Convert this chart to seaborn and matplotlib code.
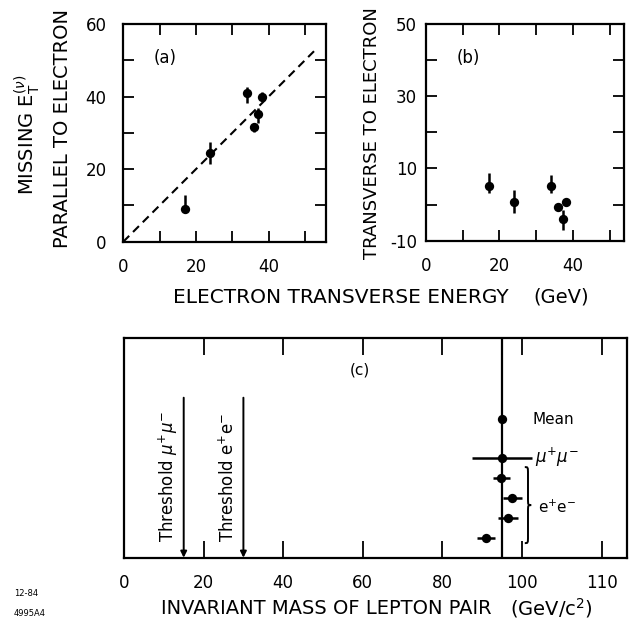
import numpy as np
import pandas as pd
import matplotlib
matplotlib.use("Agg")
import matplotlib.pyplot as plt
from matplotlib.path import Path
from matplotlib.patches import PathPatch
import seaborn as sns

# ---------------- data ----------------
# panels (a) and (b): electron transverse energy of the six events (GeV)
et = [17.1, 24.0, 34.1, 36.0, 37.2, 38.2]
# (a) missing E_T parallel to electron
par = [8.9, 24.4, 41.1, 31.6, 35.2, 40.0]
par_lo = [1.0, 3.0, 2.9, 1.5, 2.5, 1.2]
par_hi = [4.0, 3.0, 1.5, 1.0, 1.6, 1.2]
# (b) missing E_T transverse to electron
trans = [5.2, 0.6, 5.2, -0.6, -4.1, 0.6]
trans_lo = [2.1, 3.0, 2.0, 1.0, 2.9, 1.0]
trans_hi = [3.6, 3.3, 3.0, 1.0, 2.6, 1.0]
# dashed reference line in (a)
diag_x = [0, 52.5]
diag_y = [0, 52.5]

# panel (c): invariant mass of lepton pair (GeV/c^2)
mass_label = ["Mean", "mu+mu-", "e+e-", "e+e-", "e+e-", "e+e-"]
mass_row = [6.93, 5.0, 4.0, 3.0, 2.0, 1.0]
mass = [95.0, 95.0, 94.8, 97.6, 96.4, 90.9]
mass_err = [0.0, 7.5, 2.1, 2.4, 2.5, 2.2]
mean_mass = 95.0
thresholds = [15, 30]
threshold_labels = [r"Threshold $\mu^{+}\mu^{-}$", r"Threshold e$^{+}$e$^{-}$"]
c_ticks = [0, 20, 40, 60, 80, 100, 120]
c_ticklabels = ["0", "20", "40", "60", "80", "100", "110"]

# ---------------- style ----------------
sns.set_theme(style="ticks")
plt.rcParams["font.family"] = ["DejaVu Sans"]
plt.rcParams["mathtext.fontset"] = "dejavusans"
plt.rcParams["axes.linewidth"] = 1.6
plt.rcParams["text.color"] = "black"
plt.rcParams["axes.labelcolor"] = "black"
plt.rcParams["xtick.color"] = "black"
plt.rcParams["ytick.color"] = "black"
plt.rcParams["axes.unicode_minus"] = False

W, H = 629, 625
fig = plt.figure(figsize=(W / 100, H / 100), dpi=100)

def px_axes(l, r, t, b):
    return fig.add_axes([l / W, 1 - b / H, (r - l) / W, (b - t) / H])

axa = px_axes(123.3, 326.0, 24.0, 241.7)
axb = px_axes(425.9, 624.3, 24.0, 240.7)
axc = px_axes(124.0, 626.7, 337.7, 557.7)

dfa = pd.DataFrame({"et": et, "par": par, "trans": trans})

def style_ax(ax, ypad):
    ax.tick_params(which="both", direction="in", top=True, right=True,
                   length=8, width=1.3, colors="black", labelsize=12,
                   labelcolor="black")
    ax.tick_params(axis="y", which="both", pad=ypad)
    ax.tick_params(axis="x", which="both", pad=12)
    for s in ax.spines.values():
        s.set_color("black")
        s.set_linewidth(1.6)
    ax.set_xlabel("")
    ax.set_ylabel("")

# ---- panel (a)
axa.errorbar(et, par, yerr=[par_lo, par_hi], fmt="none", ecolor="black",
             elinewidth=1.8, capsize=0)
sns.scatterplot(data=dfa, x="et", y="par", ax=axa, color="black", s=45,
                edgecolor="black", linewidth=0, zorder=3)
sns.lineplot(x=diag_x, y=diag_y, ax=axa, color="black", lw=1.5,
             linestyle=(0, (4, 2.6)))
axa.set_xlim(0, 55.8)
axa.set_ylim(0, 60)
axa.set_xticks([0, 20, 40])
axa.set_xticks([10, 30, 50], minor=True)
axa.set_yticks([0, 20, 40, 60])
axa.set_yticks([10, 30, 50], minor=True)
style_ax(axa, 12)
axa.text(11.5, 50.7, "(a)", fontsize=12, ha="center", va="center")

# ---- panel (b)
axb.errorbar(et, trans, yerr=[trans_lo, trans_hi], fmt="none", ecolor="black",
             elinewidth=1.8, capsize=0)
sns.scatterplot(data=dfa, x="et", y="trans", ax=axb, color="black", s=45,
                edgecolor="black", linewidth=0, zorder=3)
axb.set_xlim(0, 54)
axb.set_ylim(-10, 50)
axb.set_xticks([0, 20, 40])
axb.set_xticks([10, 30, 50], minor=True)
axb.set_yticks([-10, 10, 30, 50])
axb.set_yticks([0, 20, 40], minor=True)
style_ax(axb, 6.5)
axb.text(11.5, 40.6, "(b)", fontsize=12, ha="center", va="center")

# ---- panel (c)
dfc = pd.DataFrame({"mass": mass, "row": mass_row, "label": mass_label})
axc.axvline(mean_mass, color="black", lw=1.6, zorder=2)
axc.errorbar(mass, mass_row, xerr=mass_err, fmt="none", ecolor="black",
             elinewidth=1.8, capsize=0, zorder=3)
sns.scatterplot(data=dfc, x="mass", y="row", ax=axc, color="black", s=45,
                edgecolor="black", linewidth=0, zorder=4)
for thr, lab in zip(thresholds, threshold_labels):
    axc.annotate("", xy=(thr, 0), xytext=(thr, 8),
                 arrowprops=dict(arrowstyle="-|>", color="black", lw=1.4,
                                 mutation_scale=9, shrinkA=0, shrinkB=0))
    axc.text(thr - 3.8, 0.8, lab, rotation=90, fontsize=12,
             ha="center", va="bottom")
axc.set_xlim(0, 126.3)
axc.set_ylim(0, 11)
axc.set_xticks(c_ticks)
axc.set_xticklabels(c_ticklabels)
axc.set_yticks([])
style_ax(axc, 6)
axc.tick_params(axis="x", which="both", length=12)
axc.tick_params(axis="y", left=False, right=False)

# labels beside the (c) points
axc.text(102.7, mass_row[0], "Mean", fontsize=11, ha="left", va="center")
axc.text(103.3, mass_row[1], r"$\mu^{+}\mu^{-}$", fontsize=12, ha="left", va="center")
ee_rows = mass_row[2:]
axc.text(104.0, np.mean(ee_rows), r"e$^{+}$e$^{-}$", fontsize=11,
         ha="left", va="center")

# curly brace grouping the e+e- events
x0, w = 100.7, 1.6
ya, yb = min(ee_rows) - 0.27, max(ee_rows) + 0.53
ym = 0.5 * (ya + yb)
d = 0.35
verts = [(x0, yb),
         (x0 + w / 2, yb), (x0 + w / 2, yb), (x0 + w / 2, yb - d),
         (x0 + w / 2, ym + d),
         (x0 + w / 2, ym), (x0 + w / 2, ym), (x0 + w, ym),
         (x0 + w / 2, ym), (x0 + w / 2, ym), (x0 + w / 2, ym - d),
         (x0 + w / 2, ya + d),
         (x0 + w / 2, ya), (x0 + w / 2, ya), (x0, ya)]
codes = [Path.MOVETO, Path.CURVE4, Path.CURVE4, Path.CURVE4, Path.LINETO,
         Path.CURVE4, Path.CURVE4, Path.CURVE4, Path.CURVE4, Path.CURVE4,
         Path.CURVE4, Path.LINETO, Path.CURVE4, Path.CURVE4, Path.CURVE4]
axc.add_patch(PathPatch(Path(verts, codes), fill=False, lw=1.4,
                        edgecolor="black"))
axc.text(59.3, 9.39, "(c)", fontsize=11, ha="center", va="center")

# ---------------- figure texts ----------------
fig.text(27 / W, 1 - 134.5 / H, r"MISSING $\mathrm{E}_{\mathrm{T}}^{(\nu)}$",
         rotation=90, fontsize=14, ha="center", va="center")
fig.text(63 / W, 1 - 129 / H, "PARALLEL TO ELECTRON",
         rotation=90, fontsize=14, ha="center", va="center")
fig.text(372 / W, 1 - 133.5 / H, "TRANSVERSE TO ELECTRON",
         rotation=90, fontsize=13, ha="center", va="center")
fig.text(173 / W, 1 - 297 / H, "ELECTRON TRANSVERSE ENERGY",
         fontsize=14.5, ha="left", va="center")
fig.text(533 / W, 1 - 297 / H, "(GeV)", fontsize=14, ha="left", va="center")
fig.text(161 / W, 1 - 608 / H, "INVARIANT MASS OF LEPTON PAIR",
         fontsize=14, ha="left", va="center")
fig.text(510 / W, 1 - 608 / H, r"(GeV/c$^{2}$)", fontsize=14,
         ha="left", va="center")
fig.text(14 / W, 1 - 594 / H, "12-84", fontsize=6, ha="left", va="center")
fig.text(14 / W, 1 - 613 / H, "4995A4", fontsize=6, ha="left", va="center")

fig.savefig("out.png", dpi=100)
